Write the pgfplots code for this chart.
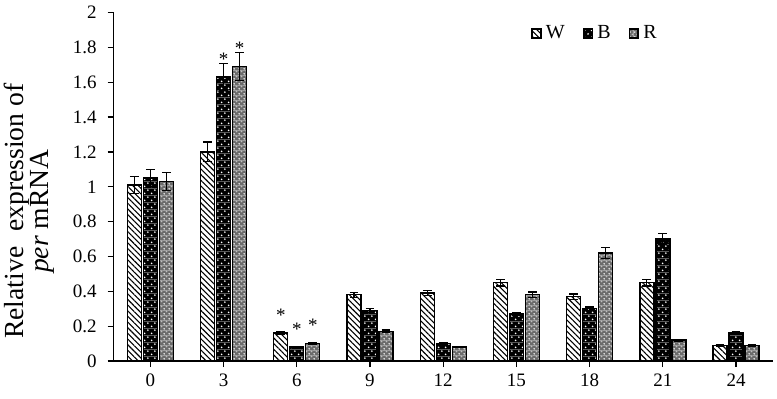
\documentclass[border=0pt]{standalone}
\usepackage{fontspec}
\setmainfont{Liberation Serif}
\usepackage{pgfplots}
\usepackage{pgfplotstable}
\pgfplotsset{compat=1.18}
\usetikzlibrary{patterns.meta}

% black fill with staggered white dots
\tikzdeclarepattern{
  name=darkdots, type=colored,
  bottom left={(0pt,0pt)}, top right={(3.6pt,3.6pt)}, tile size={(3.6pt,3.6pt)},
  code={
    \fill[black] (0pt,0pt) rectangle (3.6pt,3.6pt);
    \fill[white] (0.9pt,0.9pt) circle (0.5pt);
    \fill[white] (2.7pt,2.7pt) circle (0.5pt);
  }}
% grey fill with fine white specks
\tikzdeclarepattern{
  name=greyspecks, type=colored,
  bottom left={(0pt,0pt)}, top right={(2.4pt,2.4pt)}, tile size={(2.4pt,2.4pt)},
  code={
    \fill[black!58] (0pt,0pt) rectangle (2.4pt,2.4pt);
    \fill[white] (0.6pt,0.6pt) circle (0.4pt);
    \fill[white!75!black] (1.8pt,1.8pt) circle (0.45pt);
  }}

\pgfplotstableread{
t   W     We     Wl  B     Be     Bl  R     Re     Rl
0   1.01  0.05   {}  1.05  0.05   {}  1.03  0.05   {}
3   1.20  0.057  {}  1.63  0.077  *   1.69  0.08   *
6   0.16  0.008  *   0.08  0.005  *   0.10  0.005  *
9   0.38  0.015  {}  0.29  0.01   {}  0.17  0.008  {}
12  0.39  0.015  {}  0.10  0.005  {}  0.08  0.004  {}
15  0.45  0.02   {}  0.27  0.01   {}  0.38  0.016  {}
18  0.37  0.015  {}  0.30  0.01   {}  0.62  0.03   {}
21  0.45  0.02   {}  0.70  0.032  {}  0.12  0.005  {}
24  0.09  0.005  {}  0.16  0.006  {}  0.09  0.004  {}
}\expr

\begin{document}
\begin{tikzpicture}
\begin{axis}[
  scale only axis, width=329.5pt, height=174.25pt,
  ybar=1pt, bar width=7pt,
  xmin=-1.5, xmax=25.5, ymin=0, ymax=2,
  axis x line*=bottom, axis y line*=left,
  axis line style={line width=0.6pt, black},
  xtick={0,3,...,24},
  ytick={0,0.2,0.4,0.6,0.8,1,1.2,1.4,1.6,1.8,2},
  tick align=outside, major tick length=3pt,
  tick style={black, line width=0.6pt},
  /pgf/number format/assume math mode=true,
  yticklabel style={/pgf/number format/fixed, /pgf/number format/precision=1, xshift=-2pt},
  ticklabel style={font=\fontsize{9.5}{11}\selectfont},
  every axis y label/.style={at={([xshift=-42pt]rel axis cs:0,0.43)}, rotate=90, anchor=center},
  ylabel={Relative\hspace{0.55em}expression of\\\textit{per} mRNA},
  ylabel style={align=center, font=\fontsize{13.8}{12.5}\selectfont},
  point meta=explicit symbolic,
  nodes near coords=\pgfplotspointmeta,
  every node near coord/.append style={anchor=center, yshift=9pt, black, font=\fontsize{9.5}{10}\selectfont},
  error bars/y dir=both, error bars/y explicit,
  error bars/error bar style={line width=0.6pt, black, solid},
  error bars/error mark options={rotate=90, mark size=2.2pt, line width=0.6pt, black},
  every axis plot/.append style={draw=black, line width=0.65pt},
  legend columns=3,
  legend style={draw=none, fill=none, inner sep=0pt, at={(0.633,0.94)}, anchor=west,
    font=\fontsize{10}{11}\selectfont,
    /tikz/every even column/.append style={column sep=7pt}},
  legend image code/.code={\draw[#1, draw=black, line width=0.9pt] (0pt,-2.2pt) rectangle (4.4pt,2.2pt);},
]
\addplot[pattern={Lines[angle=-45, distance=2pt, line width=0.55pt]}, pattern color=black]
  table[x=t, y=W, y error=We, meta=Wl] {\expr};
\addplot[pattern=darkdots]
  table[x=t, y=B, y error=Be, meta=Bl] {\expr};
\addplot[pattern=greyspecks]
  table[x=t, y=R, y error=Re, meta=Rl] {\expr};
\legend{W, B, R}
\end{axis}
\pgfresetboundingbox
\path ([xshift=-56.85pt, yshift=-18.5pt]current axis.south west) rectangle ([xshift=2.15pt, yshift=6.25pt]current axis.north east);
\end{tikzpicture}
\end{document}
